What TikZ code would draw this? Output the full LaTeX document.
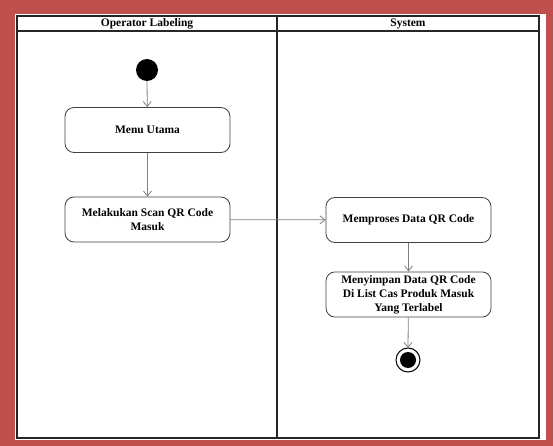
\documentclass[tikz,border=0pt]{standalone}
\usepackage{fontspec}
\setmainfont{Liberation Serif}
\usetikzlibrary{arrows.meta}
\definecolor{framered}{HTML}{C0504D}

\begin{document}
\begin{tikzpicture}[x=1pt,y=-1pt,
        activity/.style={draw=black!75, line width=0.8pt, rounded corners=9pt,
            minimum width=165pt, minimum height=45pt, align=center,
            font=\fontsize{11.5}{14}\selectfont\bfseries},
        flow/.style={draw=black!50, line width=0.8pt,
            -{Straight Barb[length=5pt,width=8pt]}},
        lane/.style={draw=black!85, line width=1.6pt},
        lanetitle/.style={font=\fontsize{11.5}{13}\selectfont\bfseries}]
        % Rahmen
        \fill[framered] (0,0) rectangle (553,446);
        \fill[white] (15,14) rectangle (546,440);
        \useasboundingbox (0,0) rectangle (553,446);

        % Swimlanes
        \draw[lane] (17,16) rectangle (539,438);
        \draw[lane] (17,31) -- (539,31);
        \draw[lane] (277,16) -- (277,438);
        \node[lanetitle] (laneop) at (147,23.5) {Operator Labeling};
        \node[lanetitle] (lanesys) at (408,23.5) {System};

        % Aktivitas
        \fill (147,70) coordinate (mulai) circle (11);
        \node[activity] (menu) at (147.5,130) {Menu Utama};
        \node[activity] (scan) at (147.5,219.5) {Melakukan Scan QR Code\\Masuk};
        \node[activity] (proses) at (408.5,220) {Memproses Data QR Code};
        \node[activity] (simpan) at (408.5,294.5) {Menyimpan Data QR Code\\Di List Cas Produk Masuk\\Yang Terlabel};

        % selesai
        \draw[black, line width=1pt] (408,360) coordinate (akhir) circle (12);
        \fill (akhir) circle (8);

        % Alur
        \draw[flow] (147,81) -- (menu);
        \draw[flow] (menu) -- (scan);
        \draw[flow] (scan) -- (proses);
        \draw[flow] (proses) -- (simpan);
        \draw[flow] (simpan) -- (408,348);
    \end{tikzpicture}
\end{document}
